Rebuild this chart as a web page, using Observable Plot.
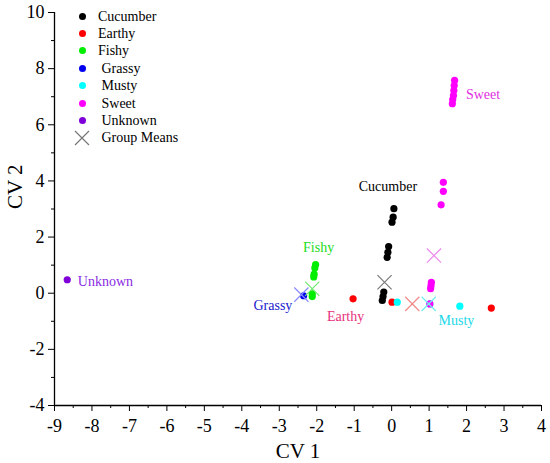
<!DOCTYPE html>
<html><head><meta charset="utf-8">
<script src="https://cdn.jsdelivr.net/npm/d3@7"></script>
<script src="https://cdn.jsdelivr.net/npm/@observablehq/plot@0.6"></script>
<style>
body{margin:0;background:#fff;font-family:"Liberation Serif",serif;}
#wrap{position:relative;width:550px;height:463px;}
#wrap svg, #wrap svg text{font-family:"Liberation Serif",serif !important;}
#legend{position:absolute;left:0;top:0;font-size:14px;color:#000;font-family:"Liberation Serif",serif;}
.li{position:absolute;height:17px;line-height:17px;white-space:nowrap;}
.sw{position:absolute;width:7px;height:7px;border-radius:50%;}
</style></head><body><div id="wrap"></div>
<script>
// ---------- data ----------
const groups = ["Cucumber","Earthy","Fishy","Grassy","Musty","Sweet","Unknown"];
const groupColors = ["#000000","#ff0000","#00ee00","#0000ee","#00ffff","#ff00ff","#7f00d8"];
const meanColors  = ["#7a7a7a","#f08a8a","#6fe86f","#8a8aff","#70eeee","#ee88ee","#b070ee"];
const labelColors = ["#000000","#e8307c","#22dd22","#2020cc","#20d8e8","#e030e0","#8a2be2"];

const cucumberX = [0.06, 0.04, 0.01, -0.08, -0.10, -0.12, -0.21, -0.23, -0.25];
const cucumberY = [3.01, 2.71, 2.53, 1.66, 1.46, 1.28, 0.04, -0.12, -0.26];
const earthyX = [-1.03, 0.01, 2.66];
const earthyY = [-0.20, -0.32, -0.53];
const fishyX = [-2.03, -2.05, -2.07, -2.08, -2.12, -2.12];
const fishyY = [1.02, 0.90, 0.68, 0.58, -0.02, -0.12];
const grassyX = [-2.35];
const grassyY = [-0.09];
const mustyX = [0.15, 1.02, 1.82];
const mustyY = [-0.32, -0.38, -0.46];
const sweetX = [1.06, 1.05, 1.04, 1.02, 1.38, 1.38, 1.32, 1.68, 1.67, 1.66, 1.65, 1.63, 1.62];
const sweetY = [0.39, 0.27, 0.16, -0.38, 3.95, 3.63, 3.15, 7.58, 7.40, 7.22, 7.04, 6.90, 6.75];
const unknownX = [-8.66];
const unknownY = [0.48];

// group means (Cucumber, Earthy, Fishy, Grassy, Musty, Sweet)
const meanGroups = ["Cucumber","Earthy","Fishy","Grassy","Musty","Sweet"];
const meanX = [-0.19, 0.55, -2.12, -2.41, 0.99, 1.13];
const meanY = [0.39, -0.38, 0.16, -0.05, -0.38, 1.34];

// group labels inside the plot
const labelX = [-0.10, -1.23, -1.95, -3.17, 1.73, 2.44, -7.64];
const labelY = [3.80, -0.83, 1.63, -0.44, -0.97, 7.08, 0.43];

const xTicks = d3.range(-9, 5, 1);
const xMinor = d3.range(-8.5, 4, 1);
const yTicks = d3.range(-4, 11, 2);
const yMinor = d3.range(-3, 10, 2);

// ---------- build tables ----------
const seriesX = [cucumberX, earthyX, fishyX, grassyX, mustyX, sweetX, unknownX];
const seriesY = [cucumberY, earthyY, fishyY, grassyY, mustyY, sweetY, unknownY];
const points = [];
groups.forEach((g, i) => seriesX[i].forEach((x, j) => points.push({group: g, x, y: seriesY[i][j]})));
const means = meanGroups.map((g, i) => ({group: g, x: meanX[i], y: meanY[i]}));
const labels = groups.map((g, i) => ({group: g, x: labelX[i], y: labelY[i]}));
const col = Object.fromEntries(groups.map((g, i) => [g, groupColors[i]]));
const mcol = Object.fromEntries(groups.map((g, i) => [g, meanColors[i]]));
const lcol = Object.fromEntries(groups.map((g, i) => [g, labelColors[i]]));
const FF = "Liberation Serif";
const fmt = d => String(d);

const chart = Plot.plot({
  width: 550, height: 463,
  marginLeft: 54, marginRight: 9, marginTop: 12, marginBottom: 58,
  style: {fontFamily: FF, background: "#fff", color: "#000"},
  x: {domain: [-9, 4]},
  y: {domain: [-4, 10]},
  marks: [
    Plot.axisX({ticks: xTicks, tickSize: 6, tickPadding: 8, fontSize: 18, fontFamily: FF, tickFormat: fmt, label: null}),
    Plot.axisX({ticks: xMinor, tickSize: 3, tickFormat: () => "", label: null}),
    Plot.axisY({ticks: yTicks, tickSize: 6, tickPadding: 4, fontSize: 18, fontFamily: FF, tickFormat: fmt, label: null}),
    Plot.axisY({ticks: yMinor, tickSize: 3, tickFormat: () => "", label: null}),
    Plot.ruleX([-9], {stroke: "#000", strokeWidth: 1.3}),
    Plot.ruleY([-4], {stroke: "#000", strokeWidth: 1.3}),
    Plot.dot(points, {x: "x", y: "y", r: 3.6, fill: d => col[d.group], stroke: "none"}),
    Plot.dot(means, {x: "x", y: "y", symbol: "times", r: 6.5, stroke: d => mcol[d.group], strokeWidth: 1.2}),
    Plot.text(labels, {x: "x", y: "y", text: "group", fill: d => lcol[d.group], fontSize: 14, fontFamily: FF}),
    Plot.text(["CV 1"], {frameAnchor: "bottom", dy: 52, fontSize: 21, fontFamily: FF, fill: "#000"}),
    Plot.text(["CV 2"], {frameAnchor: "left", dx: -39, rotate: -90, fontSize: 21, fontFamily: FF, fill: "#000"})
  ]
});
const wrap = document.getElementById("wrap");
wrap.appendChild(chart);

// ---------- legend ----------
const leg = document.createElement("div");
leg.id = "legend";
groups.forEach((g, i) => {
  const top = 7.5 + i * 17.4;
  const sw = document.createElement("div");
  sw.className = "sw";
  sw.style.left = "78.8px"; sw.style.top = (top + 5) + "px";
  sw.style.background = groupColors[i];
  leg.appendChild(sw);
  const t = document.createElement("div");
  t.className = "li";
  t.style.left = (i < 3 ? 98 : 101.5) + "px"; t.style.top = top + "px";
  t.textContent = g;
  leg.appendChild(t);
});
{
  const top = 7.5 + 7 * 17.4;
  const ns = "http://www.w3.org/2000/svg";
  const s = document.createElementNS(ns, "svg");
  s.setAttribute("width", 16); s.setAttribute("height", 16);
  s.style.position = "absolute"; s.style.left = "74.3px"; s.style.top = (top + 0.5) + "px";
  s.innerHTML = '<path d="M1,1L15,15M15,1L1,15" stroke="#777" stroke-width="1.2"/>';
  leg.appendChild(s);
  const t = document.createElement("div");
  t.className = "li";
  t.style.left = "101.5px"; t.style.top = top + "px";
  t.textContent = "Group Means";
  leg.appendChild(t);
}
wrap.appendChild(leg);
</script></body></html>
